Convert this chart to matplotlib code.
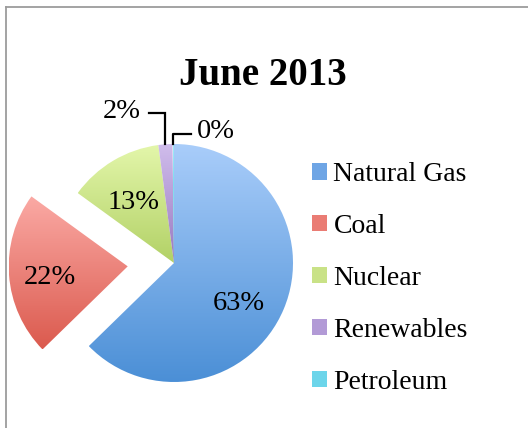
import numpy as np
import matplotlib
matplotlib.use("Agg")
import matplotlib.pyplot as plt
from matplotlib.colors import LinearSegmentedColormap
from matplotlib.patches import Patch
from matplotlib.lines import Line2D

# ---- data ----
title = "June 2013"
categories = ["Natural Gas", "Coal", "Nuclear", "Renewables", "Petroleum"]
values = [62.7, 22.3, 12.9, 1.9, 0.2]
explode = [0, 0.39, 0, 0, 0]
# gradient colours (top light, bottom dark)
top_colors = ["#a9cdfa", "#fbaaa5", "#e3f6aa", "#d0bdec", "#a2ecf8"]
bot_colors = ["#4b8fd6", "#db5a4e", "#b2d166", "#9878c0", "#38c0da"]
mid_colors = ["#6ea5e5", "#ea7c74", "#c9e287", "#b29ad6", "#6cd5ea"]

W, H = 528, 428
R = 119.0
cx, cy = 174.0, 263.0
fig = plt.figure(figsize=(W / 100, H / 100), dpi=100)
ax = fig.add_axes([0, 0, 1, 1])
ax.set_axis_off()

wedges, _ = ax.pie(values, explode=explode, startangle=90, counterclock=False,
                   radius=1.0, center=(0, 0),
                   wedgeprops=dict(linewidth=0))
xl = (-cx / R, (W - cx) / R)
yl = (-(H - cy) / R, cy / R)

# gradient fill for each wedge
for w, c1, c2 in zip(wedges, top_colors, bot_colors):
    ext = w.get_path().get_extents()
    cmap = LinearSegmentedColormap.from_list("g", [c2, c1])
    grad = np.linspace(0, 1, 256).reshape(-1, 1)
    w.set_facecolor("none")
    im = ax.imshow(grad, extent=[ext.x0, ext.x1, ext.y0, ext.y1], origin="lower",
                   cmap=cmap, aspect="auto", zorder=1, interpolation="bilinear")
    im.set_clip_path(w)

ax.set_xlim(*xl)
ax.set_ylim(*yl)
ax.set_aspect("equal")

label_font = dict(family="Liberation Serif", fontsize=20.5, color="black")
total = sum(values)
pcts = [f"{round(v / total * 100)}%" for v in values]
angle_nudge = [-7.5, 1.5, 2.0, 0, 0]
label_r = [0.63, 0.66, 0.63]
for i in range(3):
    w = wedges[i]
    th = np.deg2rad((w.theta1 + w.theta2) / 2 + angle_nudge[i])
    c = w.center
    ax.text(c[0] + label_r[i] * np.cos(th), c[1] + label_r[i] * np.sin(th), pcts[i],
            ha="center", va="center_baseline", zorder=5, **label_font)

# leader-line labels for tiny slices
def edge_point(w):
    th = np.deg2rad((w.theta1 + w.theta2) / 2)
    return np.cos(th), np.sin(th)

ex, ey = edge_point(wedges[3])
yk = (cy - 113) / R
ax.plot([ex, ex, (149 - cx) / R], [ey, yk, yk], color="black", lw=1.6, zorder=5,
        solid_joinstyle="miter")
ax.text((141 - cx) / R, (cy - 108) / R, pcts[3], ha="right", va="center_baseline",
        **label_font)

ex, ey = edge_point(wedges[4])
yk = (cy - 134) / R
ax.plot([ex, ex, (191 - cx) / R], [ey, yk, yk], color="black", lw=1.6, zorder=5,
        solid_joinstyle="round")
ax.text((197 - cx) / R, (cy - 128) / R, pcts[4], ha="left", va="center_baseline",
        **label_font)

# title
fig.text(263 / W, 1 - 85 / H, title, ha="center", va="baseline",
         family="Liberation Serif", fontweight="bold", fontsize=28)

# legend
handles = [Patch(facecolor=c, edgecolor="none") for c in mid_colors]
fig.legend(handles, categories, loc="upper left",
           bbox_to_anchor=(312 / W, 1 - 162 / H), frameon=False,
           prop=dict(family="Liberation Serif", size=20),
           handlelength=0.55, handleheight=0.55, handletextpad=0.22,
           labelspacing=0.97, borderpad=0, borderaxespad=0)

# frame lines (top and left)
fig.add_artist(Line2D([6 / W, 1], [1 - 6.5 / H, 1 - 6.5 / H], transform=fig.transFigure,
                      color="#9c9c9c", lw=1.3))
fig.add_artist(Line2D([6 / W, 6 / W], [0, 1 - 6.5 / H], transform=fig.transFigure,
                      color="#9c9c9c", lw=1.3))

fig.savefig("out.png", dpi=100)
